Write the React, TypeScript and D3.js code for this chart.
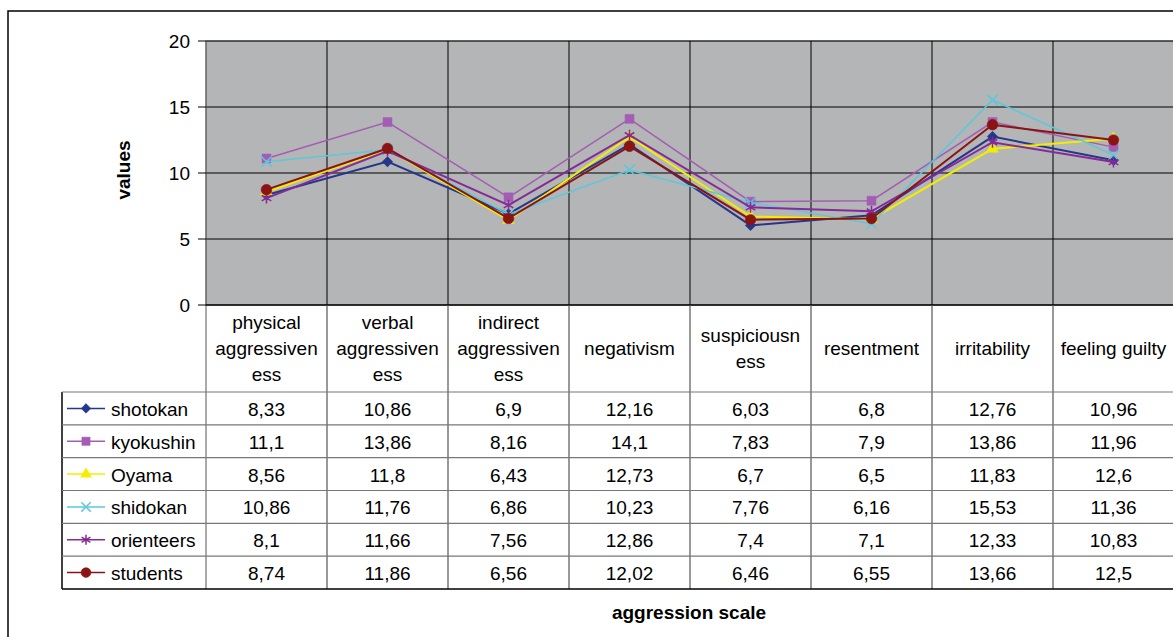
import React from "react";
import * as d3 from "d3";

// category labels, already broken the way the original table wraps them
const categories = [
    "physical aggressiveness",
    "verbal aggressiveness",
    "indirect aggressiveness",
    "negativism",
    "suspiciousness",
    "resentment",
    "irritability",
    "feeling guilty",
];
const categoryLines = [
    ["physical", "aggressiven", "ess"],
    ["verbal", "aggressiven", "ess"],
    ["indirect", "aggressiven", "ess"],
    ["negativism"],
    ["suspiciousn", "ess"],
    ["resentment"],
    ["irritability"],
    ["feeling guilty"],
];

const seriesNames = ["shotokan", "kyokushin", "Oyama", "shidokan", "orienteers", "students"];
const shotokan = [8.33, 10.86, 6.9, 12.16, 6.03, 6.8, 12.76, 10.96];
const kyokushin = [11.1, 13.86, 8.16, 14.1, 7.83, 7.9, 13.86, 11.96];
const oyama = [8.56, 11.8, 6.43, 12.73, 6.7, 6.5, 11.83, 12.6];
const shidokan = [10.86, 11.76, 6.86, 10.23, 7.76, 6.16, 15.53, 11.36];
const orienteers = [8.1, 11.66, 7.56, 12.86, 7.4, 7.1, 12.33, 10.83];
const students = [8.74, 11.86, 6.56, 12.02, 6.46, 6.55, 13.66, 12.5];
const seriesValues = [shotokan, kyokushin, oyama, shidokan, orienteers, students];

const yTicks = [0, 5, 10, 15, 20];

const colors = ["#26368a", "#a45db4", "#f2ee00", "#5cc8da", "#862a98", "#8a1414"];
const lineWidths = [2, 1.5, 2, 1.5, 2, 2];
const symbols = [
    d3.symbolDiamond2,
    d3.symbolSquare,
    d3.symbolTriangle,
    d3.symbolTimes,
    d3.symbolAsterisk,
    d3.symbolCircle,
];
const symbolSizes = [70, 80, 60, 70, 85, 90];
const strokedSymbol = [false, false, false, true, true, false];

const width = 1173;
const height = 637;
const plot = { left: 206, right: 1174, top: 41, bottom: 305 };
const tableTop = 392;
const tableBottom = 589;
const legendLeft = 62;
const font = "'Liberation Sans', Arial, sans-serif";
const fontSize = 19;

const fmt = (v: number) => String(v).replace(".", ",");

const App = (): JSX.Element => {
    const x = d3.scaleBand().domain(categories).range([plot.left, plot.right]);
    const y = d3.scaleLinear().domain([0, 20]).range([plot.bottom, plot.top]);
    const row = d3.scaleBand().domain(seriesNames).range([tableTop, tableBottom]);

    const line = d3
        .line<number>()
        .x((d, i) => (x(categories[i]) as number) + x.bandwidth() / 2)
        .y((d) => y(d));

    const colEdges = categories.map((c) => x(c) as number).concat(plot.right);

    return (
        <svg
            width={width}
            height={height}
            style={{ position: "absolute", left: 0, top: 0, display: "block" }}
            fontFamily={font}
            fontSize={fontSize}
        >
            <rect x={0} y={0} width={width} height={height} fill="#fff" />
            {/* outer frame */}
            <rect x={8} y={11} width={1180} height={650} fill="none" stroke="#000" strokeWidth={1.5} />

            {/* plot area */}
            <rect
                x={plot.left}
                y={plot.top}
                width={plot.right - plot.left}
                height={plot.bottom - plot.top}
                fill="#b4b5b7"
                stroke="#808080"
                strokeWidth={1}
            />
            {yTicks.slice(1).map((t) => (
                <line key={"g" + t} x1={plot.left} x2={plot.right} y1={y(t)} y2={y(t)} stroke="#000" strokeWidth={1} />
            ))}
            {colEdges.slice(1, -1).map((e, i) => (
                <line key={"v" + i} x1={e} x2={e} y1={plot.top} y2={plot.bottom} stroke="#000" strokeWidth={1} />
            ))}

            {/* y axis */}
            <line x1={plot.left} x2={plot.left} y1={plot.top} y2={tableBottom} stroke="#555" strokeWidth={1} />
            {yTicks.map((t) => (
                <g key={"t" + t}>
                    <line x1={198} x2={plot.left} y1={y(t)} y2={y(t)} stroke="#000" strokeWidth={1} />
                    <text x={190} y={y(t)} textAnchor="end" dominantBaseline="central">
                        {t}
                    </text>
                </g>
            ))}
            <text
                transform={`translate(130,${(plot.top + plot.bottom) / 2 - 3}) rotate(-90)`}
                textAnchor="middle"
                fontWeight="bold"
            >
                values
            </text>

            {/* category header row */}
            <line x1={plot.left} x2={plot.right} y1={plot.bottom} y2={plot.bottom} stroke="#000" strokeWidth={1.5} />
            {categories.map((c, i) => {
                const cx = (x(c) as number) + x.bandwidth() / 2;
                const lines = categoryLines[i];
                const mid = (plot.bottom + tableTop) / 2;
                return (
                    <text key={"c" + i} textAnchor="middle">
                        {lines.map((l, j) => (
                            <tspan key={j} x={cx} y={mid + (j - (lines.length - 1) / 2) * 26} dominantBaseline="central">
                                {l}
                            </tspan>
                        ))}
                    </text>
                );
            })}

            {/* data table */}
            {colEdges.slice(1, -1).map((e, i) => (
                <line key={"tv" + i} x1={e} x2={e} y1={plot.bottom} y2={tableBottom} stroke="#555" strokeWidth={1.2} />
            ))}
            <line x1={legendLeft} x2={legendLeft} y1={tableTop} y2={tableBottom} stroke="#000" strokeWidth={1.5} />
            {seriesNames.map((s, i) => (
                <line
                    key={"th" + i}
                    x1={legendLeft}
                    x2={plot.right}
                    y1={row(s) as number}
                    y2={row(s) as number}
                    stroke="#777"
                    strokeWidth={1.2}
                />
            ))}
            <line x1={legendLeft} x2={plot.right} y1={tableBottom} y2={tableBottom} stroke="#000" strokeWidth={1.5} />

            {seriesNames.map((s, i) => {
                const cy = (row(s) as number) + row.bandwidth() / 2;
                const sym = d3.symbol(symbols[i], symbolSizes[i] * 0.85)() as string;
                return (
                    <g key={"r" + s}>
                        <line x1={67} x2={105} y1={cy} y2={cy} stroke={colors[i]} strokeWidth={1.5} />
                        <path
                            d={sym}
                            transform={`translate(86,${cy})`}
                            fill={strokedSymbol[i] ? "none" : colors[i]}
                            stroke={colors[i]}
                            strokeWidth={strokedSymbol[i] ? 1.5 : 0.5}
                        />
                        <text x={111} y={cy + 1} dominantBaseline="central">
                            {s}
                        </text>
                        {seriesValues[i].map((v, j) => (
                            <text
                                key={j}
                                x={(x(categories[j]) as number) + x.bandwidth() / 2}
                                y={cy + 1}
                                textAnchor="middle"
                                dominantBaseline="central"
                            >
                                {fmt(v)}
                            </text>
                        ))}
                    </g>
                );
            })}

            {/* series lines and markers */}
            {seriesValues.map((vals, i) => {
                const sym = d3.symbol(symbols[i], symbolSizes[i])() as string;
                return (
                    <g key={"s" + i}>
                        <path d={line(vals) as string} fill="none" stroke={colors[i]} strokeWidth={lineWidths[i]} />
                        {vals.map((v, j) => (
                            <path
                                key={j}
                                d={sym}
                                transform={`translate(${(x(categories[j]) as number) + x.bandwidth() / 2},${y(v)})`}
                                fill={strokedSymbol[i] ? "none" : colors[i]}
                                stroke={colors[i]}
                                strokeWidth={strokedSymbol[i] ? 1.5 : 0.5}
                            />
                        ))}
                    </g>
                );
            })}

            <text x={(plot.left + plot.right) / 2 - 1} y={612} textAnchor="middle" dominantBaseline="central" fontWeight="bold">
                aggression scale
            </text>
        </svg>
    );
};

export default App;
